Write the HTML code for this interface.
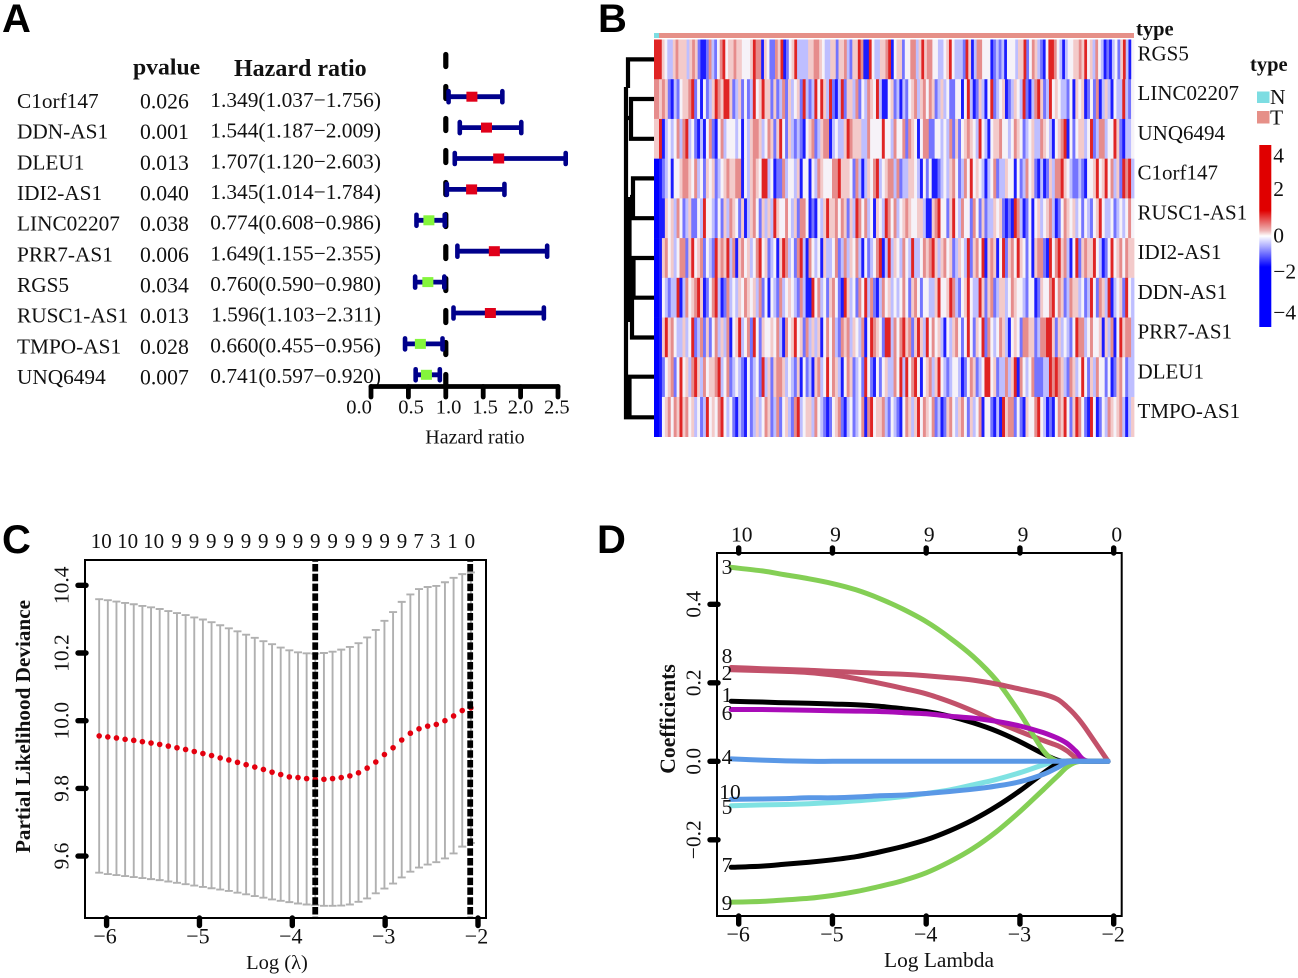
<!DOCTYPE html>
<html lang="en">
<head>
<meta charset="utf-8">
<title>Prognostic lncRNA signature figure</title>
<style>
html,body{margin:0;padding:0;background:#fff;}
svg{display:block;font-family:"Liberation Serif",serif;fill:#111;}
.letter{font-family:"Liberation Sans",sans-serif;font-weight:700;font-size:40px;fill:#000;}
</style>
</head>
<body>
<svg id="figure" xmlns="http://www.w3.org/2000/svg" width="1298" height="978" viewBox="0 0 1298 978">
<rect width="1298" height="978" fill="#fff"/>
<text class="letter" x="2" y="32">A</text>
<text class="letter" x="598" y="32">B</text>
<text class="letter" x="2" y="553">C</text>
<text class="letter" x="597" y="553">D</text>
<g id="panelA"></g>
<g id="panelB"></g>
<g id="panelC"></g>
<g id="panelD"></g>
</svg>
<script>
/* ---------- Panel A data ---------- */
const forestGenes = ["C1orf147","DDN-AS1","DLEU1","IDI2-AS1","LINC02207","PRR7-AS1","RGS5","RUSC1-AS1","TMPO-AS1","UNQ6494"];
const forestP = ["0.026","0.001","0.013","0.040","0.038","0.006","0.034","0.013","0.028","0.007"];
const forestHR = [1.349,1.544,1.707,1.345,0.774,1.649,0.760,1.596,0.660,0.741];
const forestLow = [1.037,1.187,1.120,1.014,0.608,1.155,0.590,1.103,0.455,0.597];
const forestHigh = [1.756,2.009,2.603,1.784,0.986,2.355,0.980,2.311,0.956,0.920];
const forestTicks = [0,0.5,1,1.5,2,2.5];

/* ---------- Panel B data (levels 0 = strong blue, 3 = white, 6 = strong red) ---------- */
const heatGenes = ["RGS5","LINC02207","UNQ6494","C1orf147","RUSC1-AS1","IDI2-AS1","DDN-AS1","PRR7-AS1","DLEU1","TMPO-AS1"];
const heatRGS5 = [6,4,3,2,2,4,5,4,4,4,2,4,5,4,1,0,0,1,5,2,1,3,5,6,3,4,4,5,4,4,3,3,3,4,6,5,5,0,4,3,1,1,5,4,6,0,1,3,4,6,2,2,2,2,4,4,5,5,4,3,2,2,4,4,1,4,4,5,2,1,4,4,6,5,0,0,6,3,2,2,4,4,5,6,0,3,4,4,1,3,3,5,5,2,4,6,4,5,5,3,3,2,2,3,4,6,3,2,2,2,1,6,4,0,2,5,5,3,3,3,0,1,2,1,2,0,3,3,3,2,4,4,6,1,3,5,4,2,1,0,3,6,6,5,3,2,0,2,3,3,4,4,5,4,6,3,4,2,5,3,2,0,1,0,2,3,1,4,6,2,0,3];
const heatLINC02207 = [4,5,4,1,0,2,1,3,4,4,5,6,1,3,0,3,1,2,4,6,5,4,6,6,4,1,2,4,1,3,1,2,6,3,4,6,4,4,1,4,1,2,5,1,4,2,3,4,1,6,2,1,2,6,3,6,4,2,6,1,0,2,6,1,4,4,2,5,1,3,2,5,4,3,6,2,0,0,3,4,1,2,0,2,1,3,4,5,2,4,5,3,5,4,1,2,4,2,3,1,1,3,3,0,3,6,2,0,1,4,2,0,3,6,1,2,3,4,0,1,2,4,3,2,6,1,0,2,5,6,4,1,2,6,3,4,3,2,2,1,3,0,4,3,4,0,1,3,1,5,0,2,4,2,0,3,2,2,6,2,1,3];
const heatUNQ6494 = [6,0,2,3,2,3,5,2,5,6,2,3,1,0,2,0,3,5,1,0,3,5,2,3,3,3,2,3,0,3,2,4,5,5,4,2,3,5,4,1,4,6,3,1,4,2,1,2,1,0,3,4,5,1,2,4,5,5,0,2,3,2,2,4,6,5,4,4,4,2,2,5,3,3,3,3,6,3,3,2,5,3,3,5,1,5,4,3,0,3,5,5,1,1,3,3,2,3,2,5,1,4,1,3,4,5,4,3,2,6,3,2,0,3,4,4,5,3,3,2,3,5,4,3,1,2,3,4,2,2,5,4,3,2,0,3,4,5,6,0,3,1,3,4,4,2,3,6,1,2,5,5,2,3,3,6,4,1,0,2,2,3];
const heatC1orf147 = [0,1,2,3,0,3,3,4,5,5,4,3,5,2,3,1,4,3,4,1,2,3,4,5,4,4,5,5,0,3,2,4,5,4,3,6,6,2,3,0,1,1,5,2,3,3,2,4,0,3,3,0,3,2,5,4,3,3,3,5,5,6,4,4,4,3,1,5,2,0,2,4,3,5,6,2,3,4,5,5,2,5,1,2,2,4,4,3,2,0,3,1,3,0,0,1,2,3,2,4,5,3,1,2,5,3,6,3,4,3,2,0,2,3,5,1,2,2,4,3,3,0,3,1,2,5,3,4,1,0,2,0,1,4,2,5,5,6,4,3,2,1,1,2,1,0,3,3,4,6,3,4,6,3,5,2,4,1,6,5,6,2];
const heatRUSC1 = [0,0,4,3,4,2,5,3,1,2,4,1,1,3,2,6,3,3,2,1,3,1,4,2,5,4,3,1,4,0,2,4,5,3,1,4,2,4,2,6,4,3,3,5,3,2,4,1,5,5,3,0,1,0,3,2,4,6,4,4,5,3,5,4,1,4,2,6,5,3,5,2,3,0,4,3,2,6,5,3,5,2,3,4,5,4,3,3,4,4,2,0,0,4,5,6,3,3,1,4,6,3,2,5,3,3,1,5,3,1,4,1,2,2,4,3,4,1,0,1,0,6,5,2,0,1,3,0,3,4,2,3,4,5,2,0,1,3,5,4,3,4,2,3,1,3,2,1,3,4,6,3,2,2,3,1,2,3,2,3,5,3];
const heatIDI2 = [0,4,5,3,4,2,3,5,5,1,4,6,3,4,5,1,3,2,1,6,4,5,4,6,2,5,0,4,5,3,4,2,3,5,6,3,4,1,2,3,0,4,6,5,2,3,1,5,6,2,0,5,3,2,3,0,4,2,2,3,5,1,2,5,2,4,3,5,2,0,3,1,2,3,5,6,0,2,6,2,4,3,2,5,3,2,6,2,2,3,5,4,5,6,4,2,4,5,3,4,1,2,4,3,2,6,1,4,5,3,6,0,4,5,4,0,3,6,1,4,5,3,6,4,3,1,3,0,4,5,5,1,0,6,3,5,6,4,5,2,0,3,6,1,4,5,4,4,6,3,2,0,1,3,6,3,4,5,3,5,4,4];
const heatDDN = [0,3,2,1,2,2,6,0,2,5,3,4,5,6,4,0,1,3,5,6,2,0,1,5,2,3,2,4,3,5,4,3,4,2,5,1,3,0,3,2,1,5,2,3,4,3,2,1,5,2,0,0,6,3,5,2,3,1,4,5,3,1,0,6,4,2,3,1,5,3,6,2,5,1,0,2,5,3,4,2,3,2,3,5,3,1,4,5,3,1,3,3,2,2,4,6,3,3,4,6,5,2,1,3,4,6,3,2,2,6,4,1,4,5,1,2,4,4,2,3,5,4,3,3,2,1,3,3,0,1,4,3,3,5,6,3,5,4,1,2,5,4,4,2,3,1,2,6,3,1,5,4,2,6,0,2,3,4,1,6,3,2];
const heatPRR7 = [0,4,6,4,5,3,2,2,4,2,3,6,1,2,5,1,4,1,3,5,2,4,2,5,0,3,4,6,2,3,5,1,6,3,1,4,3,3,4,3,5,2,0,5,3,4,6,3,4,1,5,2,4,2,4,0,3,5,3,5,2,1,5,4,5,2,4,3,2,5,0,3,6,5,4,3,1,6,6,2,5,3,5,6,4,5,1,4,6,4,2,6,3,5,3,4,2,0,3,2,4,5,3,1,3,6,3,1,4,3,6,1,5,3,2,3,5,4,2,0,3,4,3,1,5,5,4,4,1,2,5,5,6,6,4,1,4,2,3,2,1,3,6,5,5,2,3,5,3,3,4,0,4,2,5,0,3,6,4,5,5,2];
const heatDLEU1 = [0,1,3,4,5,1,3,6,3,4,2,5,6,4,2,5,3,4,4,5,6,2,3,5,1,2,3,2,1,0,3,1,2,3,1,6,2,4,1,4,5,5,4,2,3,2,1,4,0,3,1,2,0,4,5,2,3,6,3,5,4,2,0,3,5,4,1,2,3,1,6,3,1,0,3,1,3,4,2,2,5,3,6,2,6,3,5,6,3,0,3,4,5,2,4,6,3,2,1,2,3,3,2,0,1,3,5,4,1,2,3,6,6,3,4,1,2,2,5,2,4,6,0,5,3,2,3,5,1,1,1,2,2,6,5,6,5,4,2,1,5,4,2,3,6,3,1,4,2,5,3,3,1,3,0,1,4,5,3,1,2,2];
const heatTMPO = [0,3,4,5,3,5,4,6,4,5,3,4,2,3,1,2,6,3,4,3,5,6,3,2,3,1,0,2,1,0,3,1,2,4,2,3,5,4,1,2,5,1,3,4,2,1,5,6,2,3,4,4,2,5,3,2,1,0,1,3,4,5,1,0,2,3,1,2,3,5,0,5,6,3,4,4,5,2,1,3,2,1,0,3,5,4,2,4,6,3,5,4,3,5,1,2,0,1,4,5,3,2,4,5,3,1,4,2,3,5,0,3,3,1,0,2,0,6,4,5,5,1,3,1,0,4,3,3,5,6,3,2,0,1,0,3,5,4,6,3,1,4,6,5,3,1,0,6,3,0,1,3,2,5,4,3,4,5,2,0,2,4];
const heatMatrix = [heatRGS5,heatLINC02207,heatUNQ6494,heatC1orf147,heatRUSC1,heatIDI2,heatDDN,heatPRR7,heatDLEU1,heatTMPO];
const heatNormalColumn = [6,5,4,0,0,0,0,0,0,0];
const colorbarLabels = ["4","2","0","−2","−4"];

/* ---------- Panel C data ---------- */
const cvLambdaStart = -6.08;
const cvLambdaStep = 0.0931;
const cvMean = [9.955,9.952,9.949,9.945,9.942,9.938,9.934,9.930,9.925,9.920,9.915,9.909,9.903,9.897,9.890,9.884,9.877,9.870,9.863,9.856,9.848,9.841,9.834,9.832,9.829,9.827,9.827,9.829,9.832,9.837,9.846,9.860,9.878,9.900,9.920,9.943,9.963,9.976,9.984,9.989,10.0,10.014,10.03,10.038];
const cvUpper = [10.359,10.356,10.352,10.348,10.344,10.339,10.335,10.330,10.324,10.318,10.312,10.305,10.299,10.291,10.282,10.273,10.264,10.254,10.245,10.235,10.226,10.216,10.208,10.202,10.199,10.198,10.200,10.204,10.210,10.218,10.229,10.246,10.268,10.295,10.321,10.351,10.373,10.389,10.395,10.398,10.409,10.422,10.433,10.438];
const cvLower = [9.551,9.547,9.544,9.541,9.538,9.535,9.532,9.529,9.525,9.521,9.517,9.513,9.509,9.505,9.501,9.497,9.492,9.487,9.482,9.477,9.472,9.468,9.464,9.460,9.457,9.455,9.453,9.453,9.454,9.457,9.465,9.475,9.490,9.504,9.519,9.537,9.554,9.566,9.575,9.582,9.593,9.608,9.628,9.639];
const cvDfLabels = ["10","10","10","9","9","9","9","9","9","9","9","9","9","9","9","9","9","7","3","1","0"];
const cvDfLambda = [-6.058,-5.774,-5.494,-5.246,-5.059,-4.873,-4.686,-4.499,-4.313,-4.126,-3.939,-3.753,-3.566,-3.379,-3.193,-3.006,-2.819,-2.64,-2.46,-2.274,-2.087];
const cvXTicks = [-6,-5,-4,-3,-2];
const cvYTicks = [9.6,9.8,10.0,10.2,10.4];
const cvCutoffs = [-3.753,-2.084];

/* ---------- Panel D data ---------- */
const pathLambda = [-6.08,-5.75,-5.5,-5.25,-5,-4.75,-4.5,-4.25,-4,-3.75,-3.5,-3.25,-3,-2.75,-2.6,-2.5,-2.4,-2.3,-2.06];
const path1 = [.153,.151,.149,.148,.146,.144,.140,.134,.127,.115,.098,.077,.050,.019,.003,0,0,0,0];
const path2 = [.233,.231,.229,.226,.220,.211,.199,.186,.172,.152,.128,.101,.076,.053,.040,.027,.008,0,0];
const path3 = [.494,.485,.475,.465,.453,.437,.415,.388,.356,.315,.267,.206,.122,.027,0,0,0,0,0];
const path4 = [.006,.003,.001,0,0,0,0,0,0,0,0,0,0,0,0,0,0,0,0];
const path5 = [-.113,-.111,-.110,-.108,-.105,-.101,-.096,-.090,-.082,-.073,-.060,-.046,-.029,-.009,0,0,0,0,0];
const path6 = [.132,.132,.131,.130,.129,.128,.127,.124,.121,.115,.110,.102,.090,.073,.059,.046,.025,.002,0];
const path7 = [-.270,-.267,-.262,-.257,-.251,-.243,-.231,-.217,-.200,-.177,-.149,-.115,-.075,-.030,-.006,0,0,0,0];
const path8 = [.239,.236,.234,.232,.229,.227,.224,.222,.218,.213,.207,.197,.184,.171,.158,.139,.115,.084,0];
const path9 = [-.359,-.357,-.353,-.349,-.342,-.332,-.319,-.304,-.284,-.256,-.222,-.179,-.128,-.072,-.038,-.015,-.002,0,0];
const path10 = [-.097,-.096,-.095,-.093,-.093,-.091,-.088,-.086,-.082,-.077,-.071,-.063,-.052,-.033,-.016,-.003,0,0,0];
const pathSeries = [path1,path2,path3,path4,path5,path6,path7,path8,path9,path10];
const pathTopLabels = ["10","9","9","9","0"];
const pathXTicks = [-6,-5,-4,-3,-2];
const pathYTicks = [-0.2,0,0.2,0.4];

/* ---------- helpers ---------- */
const NS = "http://www.w3.org/2000/svg";
function make(parent, tag, attrs, content) {
  const node = document.createElementNS(NS, tag);
  for (const k in attrs) node.setAttribute(k, attrs[k]);
  if (content !== undefined) node.textContent = content;
  parent.appendChild(node);
  return node;
}
function fmtMinus(s) { return String(s).replace("-", "−"); }

/* ---------- Panel A ---------- */
(function () {
  const g = document.getElementById("panelA");
  const sx = v => 371 + 74.8 * v;
  const barY = i => 96.7 + 30.9 * i;
  let t = make(g, "text", {x: 133, y: 74.5, "font-size": 23.7, "font-weight": 700}, "pvalue");
  
  
  t = make(g, "text", {x: 234, y: 76, "font-size": 24, "font-weight": 700}, "Hazard ratio");
  
  

  const ref = make(g, "line", {x1: sx(1), x2: sx(1), y1: 54.5, y2: 386, stroke: "#000", "stroke-width": 5.2, "stroke-linecap": "round", "stroke-dasharray": "12 20"});
  
  

  forestGenes.forEach((gene, i) => {
    const base = 108 + 30.67 * i;
    let n = make(g, "text", {x: 17, y: base, "font-size": 21.3}, gene);
    
    
    n = make(g, "text", {x: 140, y: base + 0.5, "font-size": 21.7}, forestP[i]);
    
    
    const hrText = forestHR[i].toFixed(3) + "(" + forestLow[i].toFixed(3) + "−" + forestHigh[i].toFixed(3) + ")";
    n = make(g, "text", {x: 381, y: base - 1, "font-size": 21.4, "text-anchor": "end"}, hrText);
    
    

    const y = barY(i), x0 = sx(forestLow[i]), x1 = sx(forestHigh[i]), xm = sx(forestHR[i]);
    n = make(g, "line", {x1: x0, x2: x1, y1: y, y2: y, stroke: "#00008b", "stroke-width": 4.8});
    
    
    [x0, x1].forEach(cx => {
      const cap = make(g, "line", {x1: cx, x2: cx, y1: y - 5.5, y2: y + 5.5, stroke: "#00008b", "stroke-width": 4.6, "stroke-linecap": "round"});
      
      
    });
    n = make(g, "rect", {x: xm - 5.5, y: y - 5, width: 11, height: 10, fill: forestHR[i] > 1 ? "#e0001a" : "#84f53c"});
    
    
  });

  const axis = make(g, "line", {x1: sx(0), x2: sx(2.5), y1: 386.5, y2: 386.5, stroke: "#000", "stroke-width": 4.8, "stroke-linecap": "round"});
  
  
  const labelDx = [-12, 2.6, 2.7, 1.8, -0.1, -1.2];
  forestTicks.forEach((v, i) => {
    const tick = make(g, "line", {x1: sx(v), x2: sx(v), y1: 386.5, y2: 397, stroke: "#000", "stroke-width": 4.8, "stroke-linecap": "round"});
    
    
    const lab = make(g, "text", {x: sx(v) + labelDx[i], y: 413.5, "font-size": 20.5, "text-anchor": "middle"}, v.toFixed(1));
    
    
  });
  const title = make(g, "text", {x: 475, y: 443.5, "font-size": 20, "text-anchor": "middle"}, "Hazard ratio");
  
  
})();

/* ---------- Panel B ---------- */
(function () {
  const g = document.getElementById("panelB");
  const X0 = 654, X1 = 1134, Y0 = 39.5, RH = 39.72, NW = 5;
  const levelColors = ["#1c1cff","#7474ff","#bebeff","#f6f2f8","#f3caca","#e68c8c","#e02424"];
  const heatColor = level => levelColors[Math.max(0, Math.min(6, Math.round(level)))];
  let s = make(g, "rect", {x: X0 + NW, y: 33, width: X1 - X0 - NW, height: 5, fill: "#e69088"});
  
  
  s = make(g, "rect", {x: X0, y: 33, width: NW, height: 5, fill: "#7ddde2"});
  
  

  heatMatrix.forEach((row, r) => {
    const y = Y0 + RH * r;
    const w = (X1 - X0 - NW) / row.length;
    row.forEach((lv, c) => {
      const cell = make(g, "rect", {x: X0 + NW + c * w, y: y, width: w + 0.4, height: RH + 0.3, fill: heatColor(lv)});
      
      
    });
    const cell = make(g, "rect", {x: X0, y: y, width: NW, height: RH + 0.3, fill: heatNormalColumn[r] === 0 ? "#0000ff" : heatColor(heatNormalColumn[r])});
    
    
    const lab = make(g, "text", {x: 1137.5, y: 60.5 + 39.72 * r, "font-size": 21}, heatGenes[r]);
    
    
  });

  const den = make(g, "path", {
    d: "M654 59.4H628V88M654 99H631V138.8H654M628 118H631M626 87V398M654 178.4H633V218.2H654M630 197H633M629.5 197V322M654 258H633.5V297.7M654 297.7H632V337.5H654M628 300V322M654 376.7H629.5V417.3H654M626 398V417.3H630",
    fill: "none", stroke: "#000", "stroke-width": 4.2
  });
  
  

  let t = make(g, "text", {x: 1136, y: 35.5, "font-size": 20.5, "font-weight": 700}, "type");
  
  
  t = make(g, "text", {x: 1250, y: 71, "font-size": 20.5, "font-weight": 700}, "type");
  
  
  t = make(g, "rect", {x: 1257, y: 91.5, width: 12.5, height: 11.5, fill: "#7ddde2"});
  
  
  t = make(g, "rect", {x: 1257, y: 111, width: 12.5, height: 12.5, fill: "#e69088"});
  
  
  t = make(g, "text", {x: 1270, y: 104, "font-size": 21.5}, "N");
  
  
  t = make(g, "text", {x: 1270, y: 124.5, "font-size": 21.5}, "T");
  
  

  const defs = make(g, "defs", {});
  const grad = make(defs, "linearGradient", {id: "cbar", x1: 0, y1: 0, x2: 0, y2: 1});
  [[0,"#e00000"],[0.36,"#e00000"],[0.47,"#eeb4b4"],[0.50,"#ffffff"],[0.56,"#a8a8ff"],[0.67,"#0000ff"],[1,"#0000ff"]].forEach(p => {
    make(grad, "stop", {offset: p[0], "stop-color": p[1]});
  });
  t = make(g, "rect", {x: 1259.3, y: 145, width: 12, height: 182, fill: "url(#cbar)"});
  
  
  const cbY = [162.5, 196, 242.5, 278.5, 319.5];
  colorbarLabels.forEach((s2, i) => {
    const lab = make(g, "text", {x: 1273.3, y: cbY[i], "font-size": 21.5}, s2);
    
    
  });
})();

/* ---------- Panel C ---------- */
(function () {
  const g = document.getElementById("panelC");
  const sx = v => 478 + 92.85 * (v + 2);
  const sy = v => 720.7 - 338.5 * (v - 10);
  cvMean.forEach((m, i) => {
    const x = sx(cvLambdaStart + i * cvLambdaStep);
    const bar = make(g, "path", {
      d: "M" + (x - 4) + " " + sy(cvUpper[i]) + "H" + (x + 4) + "M" + x + " " + sy(cvUpper[i]) + "V" + sy(cvLower[i]) + "M" + (x - 4) + " " + sy(cvLower[i]) + "H" + (x + 4),
      fill: "none", stroke: "#b0b0b0", "stroke-width": 1.9
    });
    
    
  });
  cvMean.forEach((m, i) => {
    const dot = make(g, "circle", {cx: sx(cvLambdaStart + i * cvLambdaStep), cy: sy(m), r: 2.8, fill: "#e3000f"});
    
    
  });
  cvCutoffs.forEach(v => {
    const l = make(g, "line", {x1: sx(v), x2: sx(v), y1: 561, y2: 919, stroke: "#000", "stroke-width": 5.8, "stroke-dasharray": "7.5 2.3", "stroke-dashoffset": 6.8, "stroke-linecap": "butt"});
    
    
  });
  const frame = make(g, "rect", {x: 85, y: 560, width: 401, height: 358, fill: "none", stroke: "#000", "stroke-width": 2});
  
  
  cvXTicks.forEach(v => {
    const t = make(g, "line", {x1: sx(v), x2: sx(v), y1: 918, y2: 925.5, stroke: "#000", "stroke-width": 5.4, "stroke-linecap": "round"});
    
    
    const lab = make(g, "text", {x: sx(v) - 1.5, y: 943.5, "font-size": 22, "text-anchor": "middle"}, fmtMinus(v));
    
    
  });
  cvYTicks.forEach(v => {
    const y = sy(v);
    const t = make(g, "line", {x1: 78, x2: 86, y1: y, y2: y, stroke: "#000", "stroke-width": 5.4, "stroke-linecap": "round"});
    
    
    const lab = make(g, "text", {x: 0, y: 0, "font-size": 21.5, "text-anchor": "middle", transform: "translate(68.5," + y + ") rotate(-90)"}, v.toFixed(1));
    
    
  });
  cvDfLambda.forEach((v, i) => {
    const lab = make(g, "text", {x: sx(v), y: 548, "font-size": 21, "text-anchor": "middle"}, cvDfLabels[i]);
    
    
  });
  let t = make(g, "text", {x: 277, y: 969, "font-size": 20.5, "text-anchor": "middle"}, "Log (λ)");
  
  
  t = make(g, "text", {x: 0, y: 0, "font-size": 21.2, "font-weight": 700, "text-anchor": "middle", transform: "translate(30,726.5) rotate(-90)"}, "Partial Likelihood Deviance");
  
  
})();

/* ---------- Panel D ---------- */
(function () {
  const g = document.getElementById("panelD");
  const sx = v => 1113.7 + 93.75 * (v + 2);
  const sy = v => 761.3 - 392.5 * v;
  const colors = ["#000000","#c2516a","#84cf55","#5a98e6","#7fe2e2","#a90cb8","#000000","#c2516a","#84cf55","#5a98e6"];
  const order = [0,1,2,4,5,6,7,8,3,9];
  function smoothPath(values) {
    const p = values.map((v, k) => [sx(pathLambda[k]), sy(v)]);
    let d = "M" + p[0][0].toFixed(1) + " " + p[0][1].toFixed(1);
    for (let k = 0; k < p.length - 1; k++) {
      const a = p[Math.max(0, k - 1)], b = p[k], c = p[k + 1], e = p[Math.min(p.length - 1, k + 2)];
      const c1x = b[0] + (c[0] - a[0]) / 6, c1y = b[1] + (c[1] - a[1]) / 6;
      const c2x = c[0] - (e[0] - b[0]) / 6, c2y = c[1] - (e[1] - b[1]) / 6;
      d += "C" + c1x.toFixed(1) + " " + c1y.toFixed(1) + " " + c2x.toFixed(1) + " " + c2y.toFixed(1) + " " + c[0].toFixed(1) + " " + c[1].toFixed(1);
    }
    return d;
  }
  order.forEach(i => {
    const line = make(g, "path", {d: smoothPath(pathSeries[i]), fill: "none", stroke: colors[i], "stroke-width": 5, "stroke-linejoin": "round", "stroke-linecap": "round"});
    
    
  });
  const frame = make(g, "rect", {x: 717, y: 553, width: 404.7, height: 363, fill: "none", stroke: "#000", "stroke-width": 2});
  
  
  pathXTicks.forEach((v, i) => {
    const x = sx(v);
    let t = make(g, "line", {x1: x, x2: x, y1: 916, y2: 924, stroke: "#000", "stroke-width": 5.4, "stroke-linecap": "round"});
    
    
    t = make(g, "line", {x1: x, x2: x, y1: 548, y2: 553, stroke: "#000", "stroke-width": 5.4, "stroke-linecap": "round"});
    
    
    t = make(g, "text", {x: x - 0.5, y: 941.5, "font-size": 22, "text-anchor": "middle"}, fmtMinus(v));
    
    
    t = make(g, "text", {x: x + 3, y: 541.5, "font-size": 21.5, "text-anchor": "middle"}, pathTopLabels[i]);
    
    
  });
  pathYTicks.forEach(v => {
    const y = sy(v);
    let t = make(g, "line", {x1: 710, x2: 718, y1: y, y2: y, stroke: "#000", "stroke-width": 5.4, "stroke-linecap": "round"});
    
    
    t = make(g, "text", {x: 0, y: 0, "font-size": 21.5, "text-anchor": "middle", transform: "translate(700.5," + y + ") rotate(-90)"}, fmtMinus(v.toFixed(1)));
    
    
  });
  const endIdx = [1,2,3,4,5,6,7,8,9,10];
  const labelY = [702, 680, 574, 764, 814, 720, 872, 663, 910, 799];
  endIdx.forEach((n, i) => {
    const lab = make(g, "text", {x: n === 10 ? 730 : 727, y: labelY[i], "font-size": 21.5, "text-anchor": "middle"}, String(n));
    
    
  });
  let t = make(g, "text", {x: 939, y: 967, "font-size": 21.4, "text-anchor": "middle"}, "Log Lambda");
  
  
  t = make(g, "text", {x: 0, y: 0, "font-size": 21.7, "font-weight": 700, "text-anchor": "middle", transform: "translate(675,719) rotate(-90)"}, "Coefficients");
  
  
})();
</script>
</body>
</html>
